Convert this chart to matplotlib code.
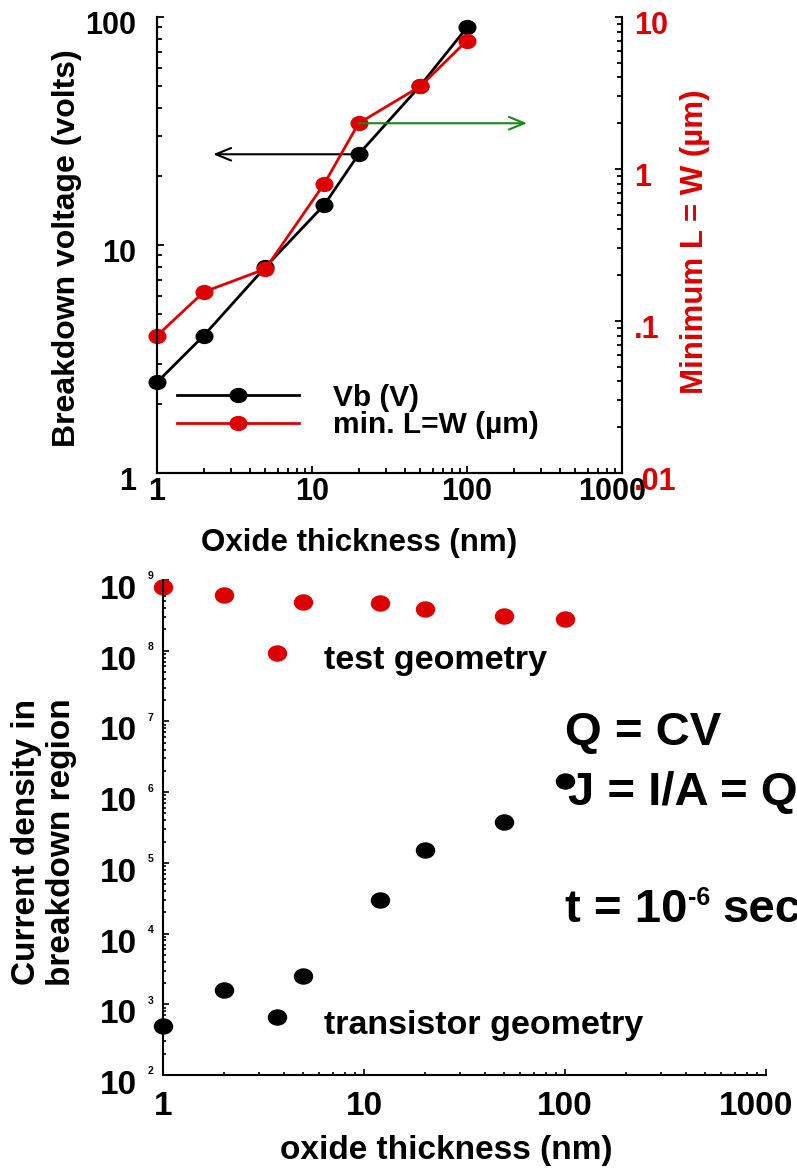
import numpy as np
import matplotlib
matplotlib.use('Agg')
import matplotlib.pyplot as plt
from matplotlib.path import Path
from matplotlib.transforms import Affine2D, ScaledTranslation
from matplotlib.ticker import LogLocator, NullFormatter

plt.rcParams['font.family'] = ['Liberation Sans', 'DejaVu Sans']
plt.rcParams['font.weight'] = 'bold'
plt.rcParams['axes.labelweight'] = 'bold'

# top panel: breakdown voltage and min. device size vs oxide thickness
tox = [1, 2, 5, 12, 20, 50, 100]
vb = [2.5, 4, 8, 15, 25, 50, 90]
min_lw = [0.08, 0.155, 0.22, 0.8, 2.0, 3.5, 7.0]

# bottom panel: current density in breakdown region
tox_test = [1, 2, 3.7, 5, 12, 20, 50, 100]
j_test = [8.0e8, 6.2e8, 9.2e7, 4.9e8, 4.7e8, 3.9e8, 3.1e8, 2.8e8]
tox_trans = [1, 2, 3.7, 5, 12, 20, 50, 100]
j_trans = [500, 1600, 655, 2540, 3.0e4, 1.5e5, 3.75e5, 1.46e6]

top_xticks = [1, 10, 100, 1000]
top_xlabels = ['1', '10', '100', '1000']
left_yticks = [1, 10, 100]
left_ylabels = ['1', '10', '100']
right_yticks = [0.01, 0.1, 1, 10]
right_ylabels = ['.01', '.1', '1', '10']
j_exponents = [2, 3, 4, 5, 6, 7, 8, 9]

RED = '#dd0000'
GREEN = '#16891a'
W, H = 797, 1168

fig = plt.figure(figsize=(W / 100, H / 100), dpi=100)


def frac(l, t, r, b):
    return [l / W, 1 - b / H, (r - l) / W, (b - t) / H]


def shift_ticks(ticks, dx, dy, second=False):
    off = ScaledTranslation(dx / 100, -dy / 100, fig.dpi_scale_trans)
    for tk in ticks:
        lab = tk.label2 if second else tk.label1
        lab.set_transform(lab.get_transform() + off)


def ftext(x, y, s, **kw):
    return fig.text(x / W, 1 - y / H, s, va='baseline', ha='left', **kw)


# slightly wide ellipse marker, like the original
ell = Path.unit_circle().transformed(Affine2D().scale(1.2, 1.0))

# ---------------- top panel ----------------
ax = fig.add_axes(frac(157, 17, 622, 473))
ax2 = ax.twinx()
ax.plot(tox, vb, color='black', lw=2, marker=ell, ms=12, label='Vb (V)', clip_on=False)
ax2.plot(tox, min_lw, color=RED, lw=2, marker=ell, ms=12, label='min. L=W (µm)', clip_on=False)

ax.set_xscale('log')
ax.set_yscale('log')
ax2.set_yscale('log')
ax.set_xlim(1, 1000)
ax.set_ylim(1, 100)
ax2.set_ylim(0.01, 10)

ax.set_xticks(top_xticks, top_xlabels)
ax.set_yticks(left_yticks, left_ylabels)
ax2.set_yticks(right_yticks, right_ylabels)
for a in (ax.xaxis, ax.yaxis, ax2.yaxis):
    a.set_minor_locator(LogLocator(base=10, subs=np.arange(2, 10), numticks=50))
    a.set_minor_formatter(NullFormatter())

ax.tick_params(which='both', direction='in', width=1.3, labelsize=22, top=False, right=False)
ax.tick_params(which='major', length=5)
ax.tick_params(which='minor', length=3.5)
ax.tick_params(axis='x', pad=3)
ax.tick_params(axis='y', pad=15)
ax2.tick_params(which='both', direction='in', width=1.3, labelsize=22, labelcolor=RED, pad=8.5)
ax2.tick_params(which='major', length=5)
ax2.tick_params(which='minor', length=3.5)
shift_ticks(ax.yaxis.get_major_ticks(), 0, 5)
shift_ticks(ax2.yaxis.get_major_ticks(), 0, 5, second=True)
shift_ticks(ax.xaxis.get_major_ticks()[-1:], -10, 0)

for a in (ax, ax2):
    a.spines['top'].set_visible(False)
    for s in a.spines.values():
        s.set_linewidth(1.5)

ax.set_xlabel('Oxide thickness (nm)', fontsize=22.5, va='center')
ax.xaxis.set_label_coords(0.434, -0.1535)
ax.set_ylabel('Breakdown voltage (volts)', fontsize=23, va='center')
ax.yaxis.set_label_coords(-0.1935, 0.493)
ax2.set_ylabel('Minimum L = W (µm)', color=RED, fontsize=22.5, va='center', rotation=90)
ax2.yaxis.set_label_coords(1.157, 0.5066)

# arrows pointing to the axis each curve belongs to
ax.annotate('', xy=(2.3, 25), xytext=(20, 25),
            arrowprops=dict(arrowstyle='->,head_length=1.1,head_width=0.45', color='black',
                            lw=1.5, shrinkA=0, shrinkB=0, mutation_scale=10))
ax2.annotate('', xy=(244, 2.0), xytext=(20, 2.0),
             arrowprops=dict(arrowstyle='->,head_length=1.1,head_width=0.45', color=GREEN,
                             lw=1.5, shrinkA=0, shrinkB=0, mutation_scale=10))

h1, l1 = ax.get_legend_handles_labels()
h2, l2 = ax2.get_legend_handles_labels()
ax2.legend(h1 + h2, l1 + l2, loc='center left', bbox_to_anchor=(0.043, 0.135),
           frameon=False, fontsize=21.5, handlelength=4.08, handletextpad=1.14,
           labelspacing=-0.02, borderpad=0, borderaxespad=0)

# ---------------- bottom panel ----------------
bx = fig.add_axes(frac(163, 580, 766, 1075))
bx.plot(tox_test, j_test, ls='none', marker=ell, ms=13, color=RED, clip_on=False)
bx.plot(tox_trans, j_trans, ls='none', marker=ell, ms=13, color='black', clip_on=False)
bx.set_xscale('log')
bx.set_yscale('log')
bx.set_xlim(1, 1000)
bx.set_ylim(1e2, 1e9)
bx.spines['top'].set_visible(False)
bx.spines['right'].set_visible(False)
for s in bx.spines.values():
    s.set_linewidth(1.5)

bx.set_xticks(top_xticks, top_xlabels)
bx.set_yticks([10.0 ** k for k in j_exponents], ['10'] * len(j_exponents))
for a in (bx.xaxis, bx.yaxis):
    a.set_minor_locator(LogLocator(base=10, subs=np.arange(2, 10), numticks=50))
    a.set_minor_formatter(NullFormatter())
bx.tick_params(which='both', direction='in', width=1.2, top=False, right=False)
bx.tick_params(which='major', length=4)
bx.tick_params(which='minor', length=2.2)
bx.tick_params(axis='x', labelsize=24, pad=11.5)
bx.tick_params(axis='y', labelsize=24, pad=18.7)
shift_ticks(bx.yaxis.get_major_ticks(), 0, 7)
shift_ticks(bx.xaxis.get_major_ticks()[-1:], -10, 0)
for k in j_exponents:
    bx.annotate(str(k), xy=(0, 10.0 ** k), xycoords=('axes fraction', 'data'),
                xytext=(-10.8, -1), textcoords='offset points',
                fontsize=7.5, ha='left', va='bottom')

bx.set_xlabel('oxide thickness (nm)', fontsize=24, va='center')
bx.xaxis.set_label_coords(0.469, -0.1535)
bx.set_ylabel('Current density in\nbreakdown region', fontsize=24, va='center', linespacing=1.15)
bx.yaxis.set_label_coords(-0.197, 0.4707)

ftext(324, 669, 'test geometry', fontsize=24.5)
ftext(324, 1034, 'transistor geometry', fontsize=24.5)
ftext(565, 745, 'Q = CV', fontsize=34)
ftext(568, 805, 'J = I/A = Q/At', fontsize=34)
ftext(565, 922, 't = 10', fontsize=34)
ftext(688, 905, '-6', fontsize=18)
ftext(722, 922, 'sec', fontsize=34)

fig.savefig('out.png', dpi=100)
